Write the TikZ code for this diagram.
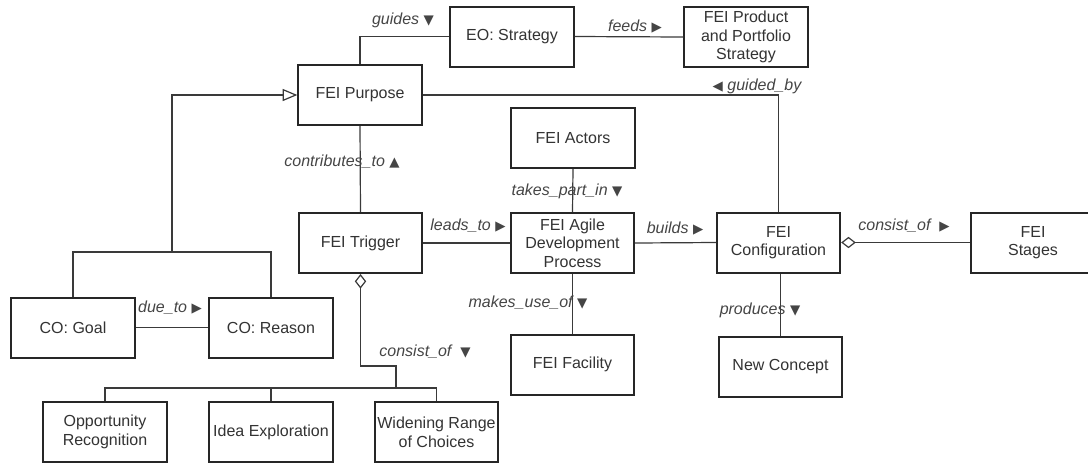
\documentclass[tikz,border=0pt]{standalone}
\usepackage{fontspec}
\setmainfont{Liberation Sans}
\newfontfamily\symfont{DejaVu Sans}
\usetikzlibrary{arrows.meta}
\definecolor{boxline}{HTML}{262626}
\definecolor{linegray}{HTML}{3A3A3A}
\definecolor{textgray}{HTML}{333333}
\definecolor{labelgray}{HTML}{454545}
% direction markers for association names
\newcommand\dirdown{{\symfont\fontsize{10}{10}\selectfont ▼}}
\newcommand\dirup{{\symfont\fontsize{10}{10}\selectfont ▲}}
\newcommand\dirright{{\symfont\fontsize{10}{10}\selectfont ▶}}
\newcommand\dirleft{{\symfont\fontsize{10}{10}\selectfont ◀}}
\begin{document}
\begin{tikzpicture}[x=0.75pt,y=-0.75pt,
  entity/.style={draw=boxline, line width=1.5pt, fill=white,
    minimum width=92.5pt, minimum height=45pt, inner sep=1pt,
    align=center, text=textgray, font=\fontsize{12}{14}\selectfont},
  link/.style={draw=linegray, line width=0.9pt},
  rel/.style={text=labelgray, inner sep=0pt,
    font=\fontsize{12}{14}\selectfont\itshape},
  agg/.style={{Diamond[open,fill=white,length=11pt,width=8.5pt]}-},
  gen/.style={-{Triangle[open,fill=white,length=11pt,width=9pt]}}]
\useasboundingbox (0,0) rectangle (1088,465);
\clip (0,0) rectangle (1088,465);

% entities
\node[entity] (eo)       at (512,36.5)  {EO: Strategy};
\node[entity] (product)  at (746,37)    {FEI Product\\and Portfolio\\Strategy};
\node[entity] (purpose)  at (360,95)    {FEI Purpose};
\node[entity] (actors)   at (573,138)   {FEI Actors};
\node[entity] (trigger)  at (360.5,243) {FEI Trigger};
\node[entity] (agile)    at (572.5,243) {FEI Agile\\Development\\Process};
\node[entity] (config)   at (778.5,242.5) {FEI\\Configuration};
\node[entity] (stages)   at (1033,242.5) {FEI\\Stages};
\node[entity] (goal)     at (73,327.5)  {CO: Goal};
\node[entity] (reason)   at (271,327.5) {CO: Reason};
\node[entity] (facility) at (572.5,364.5) {FEI Facility};
\node[entity] (concept)  at (780.5,367) {New Concept};
\node[entity] (opp)      at (105,432)   {Opportunity\\Recognition};
\node[entity] (idea)     at (271,432)   {Idea Exploration};
\node[entity] (widen)    at (436.5,432) {Widening Range\\of Choices};

% junction points
\coordinate (cojoin) at (172,252);
\coordinate (bend)   at (396,366);
\coordinate (bus)    at (396,388);

% associations
\draw[link] (purpose.north) |- (eo.west);
\draw[link] (eo.east) -- (product.west);
\draw[link] (purpose.east) -| (config.north);
\draw[link] (purpose.south) -- (trigger.north);
\draw[link] (trigger.east) -- (agile.west);
\draw[link] (actors.south) -- (agile.north);
\draw[link] (agile.east) -- (config.west);
\draw[link] (agile.south) -- (facility.north);
\draw[link] (concept.north) -- (concept.north |- config.south);
\draw[link] (goal.east) -- (reason.west);
\draw[link,agg] (config.east) -- (stages.west);

% generalisation of goal and reason
\draw[link] (goal.north) |- (cojoin) -| (reason.north);
\draw[link,gen] (cojoin) |- (purpose.west);

% trigger composition
\draw[link,agg] (trigger.south) |- (bend) -- (bus);
\draw[link] (opp.north) |- (bus);
\draw[link] (widen.north) |- (bus);
\draw[link] (idea.north) -- (idea.north |- bus);

% association names
\node[rel] (lguides)  at (403,20)  {guides \dirdown};
\node[rel] (lfeeds)   at (635,27)  {feeds \dirright};
\node[rel] (lguided)  at (757,86)  {\dirleft{} guided\_by};
\node[rel] (lcontrib) at (342,162) {contributes\_to \dirup};
\node[rel] (ltakes)   at (567,191) {takes\_part\_in \dirdown};
\node[rel] (lleads)   at (468,226) {leads\_to \dirright};
\node[rel] (lbuilds)  at (675,229) {builds \dirright};
\node[rel] (lconsist) at (904,226) {consist\_of\ \ \dirright};
\node[rel] (lprod)    at (760,310) {produces \dirdown};
\node[rel] (lmakes)   at (528,303) {makes\_use\_of \dirdown};
\node[rel] (ldue)     at (170,308) {due\_to \dirright};
\node[rel] (lcons2)   at (425,352) {consist\_of\ \ \dirdown};
\end{tikzpicture}
\end{document}
